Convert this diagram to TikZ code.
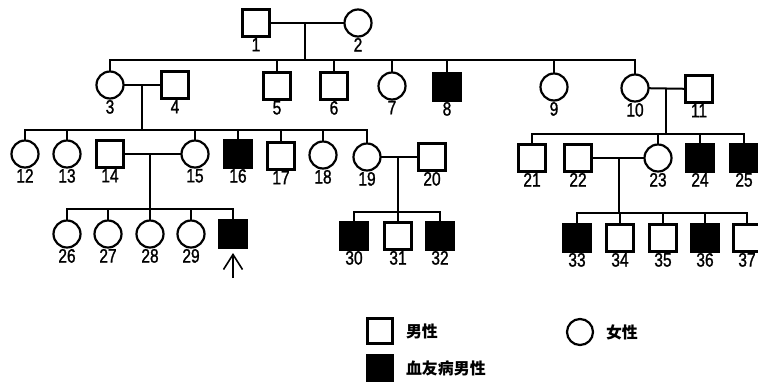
\documentclass[tikz,border=0pt]{standalone}
\usepackage{fontspec}
\setmainfont{Liberation Sans}
\newfontfamily\numfont{Liberation Sans}[FakeStretch=0.8,FakeBold=1.2]
\newfontfamily\cjk{Noto Sans CJK SC}
\usetikzlibrary{arrows.meta}
\begin{document}
\begin{tikzpicture}[x=1bp,y=-1bp,line width=2bp,
  ind/.style={draw, line width=2.2bp, minimum size=27bp, inner sep=0pt, outer sep=0pt},
  male/.style={ind, rectangle},
  female/.style={ind, circle, minimum size=27bp},
  aff/.style={male, fill=black},
  lbl/.style={font=\numfont\fontsize{19.5}{19.5}\selectfont, inner sep=0.5bp},
  legtext/.style={font=\cjk\bfseries\fontsize{16}{16}\selectfont, anchor=west, inner sep=0pt}]
\useasboundingbox (0,0) rectangle (758,381);
\clip (0,0) rectangle (758,381);
% Generation I
\node[male,label={[lbl]below:1}] (n1) at (256,23) {};
\node[female,label={[lbl]below:2}] (n2) at (358,23) {};
\draw (n1) -- (n2);
\coordinate (d1) at (305,23);
\coordinate (sib2) at (305,60);
\draw (d1) -- (sib2);
% Generation II
\node[female,label={[lbl]below:3}] (n3) at (110,85) {};
\node[male,label={[lbl]below:4}] (n4) at (175,85) {};
\node[male,label={[lbl]below:5}] (n5) at (277,86) {};
\node[male,label={[lbl]below:6}] (n6) at (334,86) {};
\node[female,label={[lbl]below:7}] (n7) at (392,86) {};
\node[aff,label={[lbl]below:8}] (n8) at (447,87) {};
\node[female,label={[lbl]below:9}] (n9) at (554,87) {};
\node[female,label={[lbl]below:10}] (n10) at (635,88) {};
\node[male,label={[lbl]below:11}] (n11) at (699,89) {};
\draw (n3.north) -- (n3.north |- sib2) -- (n10.north |- sib2) -- (n10.north);
\foreach \k in {5,6,7,8,9} \draw (n\k.north) -- (n\k.north |- sib2);
\draw (n3) -- (n4);
\draw (n10) -- (n11);
% Generation III left
\coordinate (d34) at (142,85);
\coordinate (sib3a) at (142,130);
\draw (d34) -- (sib3a);
\node[female,label={[lbl]below:12}] (n12) at (25,154) {};
\node[female,label={[lbl]below:13}] (n13) at (67,154) {};
\node[male,label={[lbl]below:14}] (n14) at (110,154) {};
\node[female,label={[lbl]below:15}] (n15) at (195,154) {};
\node[aff,label={[lbl]below:16}] (n16) at (238,154) {};
\node[male,label={[lbl]below:17}] (n17) at (281,156) {};
\node[female,label={[lbl]below:18}] (n18) at (323,155) {};
\node[female,label={[lbl]below:19}] (n19) at (367,157) {};
\draw (n12.north) -- (n12.north |- sib3a) -- (n19.north |- sib3a) -- (n19.north);
\foreach \k in {13,15,16,17,18} \draw (n\k.north) -- (n\k.north |- sib3a);
\draw (n14) -- (n15);
\node[male,label={[lbl]below:20}] (n20) at (432,157) {};
\draw (n19) -- (n20);
% Generation III right
\coordinate (d1011) at (666,89);
\coordinate (sib3b) at (666,134);
\draw (d1011) -- (sib3b);
\node[male,label={[lbl]below:21}] (n21) at (532,158) {};
\node[male,label={[lbl]below:22}] (n22) at (578,158) {};
\node[female,label={[lbl]below:23}] (n23) at (658,158) {};
\node[aff,label={[lbl]below:24}] (n24) at (700,158) {};
\node[aff,label={[lbl]below:25}] (n25) at (744,158) {};
\draw (n21.north) -- (n21.north |- sib3b) -- (n25.north |- sib3b) -- (n25.north);
\foreach \k in {23,24} \draw (n\k.north) -- (n\k.north |- sib3b);
\draw (n22) -- (n23);
% Generation IV: children of 14 and 15
\coordinate (d1415) at (150,154);
\coordinate (sib4a) at (150,209);
\draw (d1415) -- (sib4a);
\node[female,label={[lbl]below:26}] (n26) at (67,234) {};
\node[female,label={[lbl]below:27}] (n27) at (108,234) {};
\node[female,label={[lbl]below:28}] (n28) at (150,234) {};
\node[female,label={[lbl]below:29}] (n29) at (191,234) {};
\node[aff] (np) at (233,234) {};
\draw (n26.north) -- (n26.north |- sib4a) -- (np.north |- sib4a) -- (np.north);
\foreach \k in {27,28,29} \draw (n\k.north) -- (n\k.north |- sib4a);
\coordinate (arrtip) at (233,253);
\coordinate (arrbase) at (233,278);
\draw[line width=1.6bp,-{Straight Barb[length=15bp,width=19bp,line width=1.6bp]}] (arrbase) -- (arrtip);
% children of 19 and 20
\coordinate (d1920) at (398,157);
\coordinate (sib4b) at (398,212);
\draw (d1920) -- (sib4b);
\node[aff,label={[lbl]below:30}] (n30) at (354,236) {};
\node[male,label={[lbl]below:31}] (n31) at (398,236) {};
\node[aff,label={[lbl]below:32}] (n32) at (440,236) {};
\draw (n30.north) -- (n30.north |- sib4b) -- (n32.north |- sib4b) -- (n32.north);
\draw (n31.north) -- (n31.north |- sib4b);
% children of 22 and 23
\coordinate (d2223) at (619,157);
\coordinate (sib4c) at (619,213);
\draw (d2223) -- (sib4c);
\node[aff,label={[lbl]below:33}] (n33) at (577,238) {};
\node[male,label={[lbl]below:34}] (n34) at (620,238) {};
\node[male,label={[lbl]below:35}] (n35) at (663,238) {};
\node[aff,label={[lbl]below:36}] (n36) at (705,238) {};
\node[male,label={[lbl]below:37}] (n37) at (747,238) {};
\draw (n33.north) -- (n33.north |- sib4c) -- (n37.north |- sib4c) -- (n37.north);
\foreach \k in {34,35,36} \draw (n\k.north) -- (n\k.north |- sib4c);
% Legend
\node[male,minimum size=25bp] (lm) at (380,331) {};
\node[legtext] (tm) at (405,331) {男性};
\node[female,minimum size=26bp] (lf) at (580,332) {};
\node[legtext] (tf) at (605,332) {女性};
\node[aff,minimum size=25bp] (la) at (380,368) {};
\node[legtext] (ta) at (405,368) {血友病男性};
\end{tikzpicture}
\end{document}
